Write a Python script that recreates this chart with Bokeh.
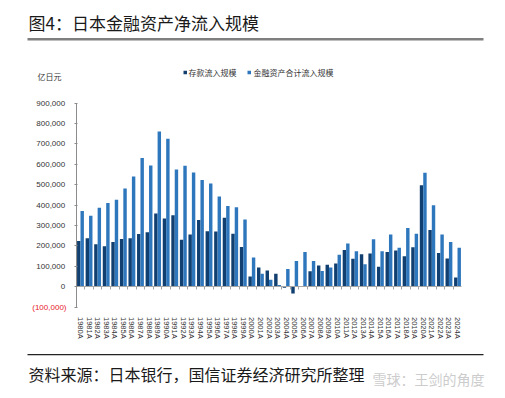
from bokeh.plotting import figure
from bokeh.models import (Range1d, FixedTicker, Label, ColumnDataSource, LinearAxis,
                          BoxAnnotation)
from bokeh.embed import file_html
from bokeh.resources import INLINE

# ---------------- data (亿日元) ----------------
years = [str(y) + "A" for y in range(1980, 2025)]
deposits = [224000, 237000, 207000, 198000, 219000, 233000, 237000, 258000, 267000, 358000,
            334000, 350000, 230000, 256000, 327000, 271000, 270000, 337000, 259000, 194000,
            50000, 94000, 79000, 63000, -6000, -34000, 0, 75000, 104000, 107000,
            113000, 180000, 136000, 159000, 162000, 97000, 169000, 177000, 149000, 193000,
            497000, 277000, 165000, 138000, 45000]
totals = [370000, 347000, 387000, 410000, 426000, 481000, 540000, 631000, 594000, 760000,
          725000, 574000, 592000, 559000, 522000, 505000, 442000, 395000, 389000, 329000,
          143000, 63000, 34000, 8000, 86000, 125000, 170000, 126000, 76000, 94000,
          156000, 211000, 173000, 110000, 232000, 173000, 256000, 191000, 287000, 259000,
          558000, 399000, 256000, 219000, 190000]
y_ticks = [-100000, 0, 100000, 200000, 300000, 400000, 500000, 600000, 700000, 800000, 900000]
y_tick_labels = ["(100,000)", "0", "100,000", "200,000", "300,000", "400,000",
                 "500,000", "600,000", "700,000", "800,000", "900,000"]
series_names = ["存款流入规模", "金融资产合计流入规模"]
title_text = "图4：日本金融资产净流入规模"
source_text = "资料来源：日本银行，国信证券经济研究所整理"
unit_text = "亿日元"
watermark_text = "雪球：王剑的角度"

DARK = "#113f70"
LIGHT = "#2f77bd"
CJK = "Noto Sans CJK SC"
W, H = 504, 397

# The frame covers the whole canvas; the value axes are placed with fixed_location.
n = len(years)
px_per_cat = 385.6 / n
x0_px = 75.7                      # left edge of the category band
y_per_px = (y_ticks[-1] - y_ticks[0]) / 204.0
top_px, bot_px = 102.5, 306.5     # 900,000 and (100,000) from the top

x_start = -0.5 - x0_px / px_per_cat
x_end = x_start + W / px_per_cat
y_end = y_ticks[-1] + top_px * y_per_px
y_start = y_ticks[0] - (H - bot_px) * y_per_px

p = figure(width=W, height=H, x_range=Range1d(x_start, x_end), y_range=Range1d(y_start, y_end),
           output_backend="svg", toolbar_location=None,
           x_axis_location=None, y_axis_location=None, min_border=0)
p.outline_line_color = None
p.grid.visible = False

idx = list(range(n))
src = ColumnDataSource(dict(xd=[i - 0.2 for i in idx], xl=[i + 0.2 for i in idx],
                            dep=deposits, tot=totals))
p.vbar(x="xd", top="dep", bottom=0, width=0.4, source=src, fill_color=DARK, line_color=None)
p.vbar(x="xl", top="tot", bottom=0, width=0.4, source=src, fill_color=LIGHT, line_color=None)

# y axis
yax = LinearAxis(fixed_location=-0.5, bounds=(y_ticks[0], y_ticks[-1]))
yax.ticker = FixedTicker(ticks=y_ticks)
ov = {t: l for t, l in zip(y_ticks, y_tick_labels)}
ov[y_ticks[0]] = ""
yax.major_label_overrides = ov
yax.major_label_text_font = "Liberation Sans"
yax.major_label_text_font_size = "8px"
yax.major_label_text_color = "#333333"
yax.axis_line_color = "#8c8c8c"
yax.major_tick_line_color = "#8c8c8c"
yax.major_tick_out = 2
yax.major_tick_in = 1
yax.minor_tick_line_color = None
yax.major_label_standoff = 9
p.add_layout(yax, "left")

# zero line with category separators
zax = LinearAxis(fixed_location=0, bounds=(-0.5, n - 0.5))
zax.ticker = FixedTicker(ticks=[i + 0.5 for i in idx[:-1]])
zax.major_label_text_font_size = "0px"
zax.major_label_overrides = {i + 0.5: "" for i in idx[:-1]}
zax.axis_line_color = "#a6a6a6"
zax.major_tick_line_color = "#a6a6a6"
zax.major_tick_out = 3
zax.major_tick_in = 0
zax.minor_tick_line_color = None
p.add_layout(zax, "below")

# category labels
xax = LinearAxis(fixed_location=y_ticks[0], bounds=(-0.5, n - 0.5))
xax.ticker = FixedTicker(ticks=idx)
xax.major_label_overrides = {i: y for i, y in zip(idx, years)}
xax.major_label_orientation = "vertical"
xax.major_label_text_font = "Liberation Sans"
xax.major_label_text_font_size = "7.5px"
xax.major_label_text_color = "#333333"
xax.axis_line_color = None
xax.major_tick_line_color = None
xax.minor_tick_line_color = None
xax.major_label_standoff = 4
p.add_layout(xax, "below")


def box(left, right, top_page, bottom_page, color):
    p.add_layout(BoxAnnotation(left=left, right=right, bottom=H - bottom_page, top=H - top_page,
                               left_units="screen", right_units="screen",
                               bottom_units="screen", top_units="screen",
                               fill_color=color, fill_alpha=1, line_color=None))


def label(x, y_page, text, size, color, font=CJK, align="left"):
    p.add_layout(Label(x=x, y=H - y_page, x_units="screen", y_units="screen", text=text,
                       text_font=font, text_font_size=size, text_color=color,
                       text_align=align, text_baseline="middle"))


# red negative tick label
label(66, 306.5, y_tick_labels[0], "8px", "#e8202a", font="Liberation Sans", align="right")
# unit
label(37, 75.5, unit_text, "8px", "#333333")
# legend
for sx, tx, col, name in [(183, 188, DARK, series_names[0]), (247, 253, LIGHT, series_names[1])]:
    box(sx, sx + 3.5, 70.3, 73.8, col)
    label(tx, 72, name, "8px", "#333333")

# title and rule
label(28, 22, title_text, "17px", "#1a1a1a")
box(27, 483, 37.5, 40, "#7f7f7f")

# footer rule, source and watermark
box(27, 483, 353.5, 354.7, "#222222")
label(28, 373, source_text, "16px", "#1a1a1a")
label(372, 378, watermark_text, "14px", "#cccccc")

open("out.html", "w").write(file_html(p, INLINE))
